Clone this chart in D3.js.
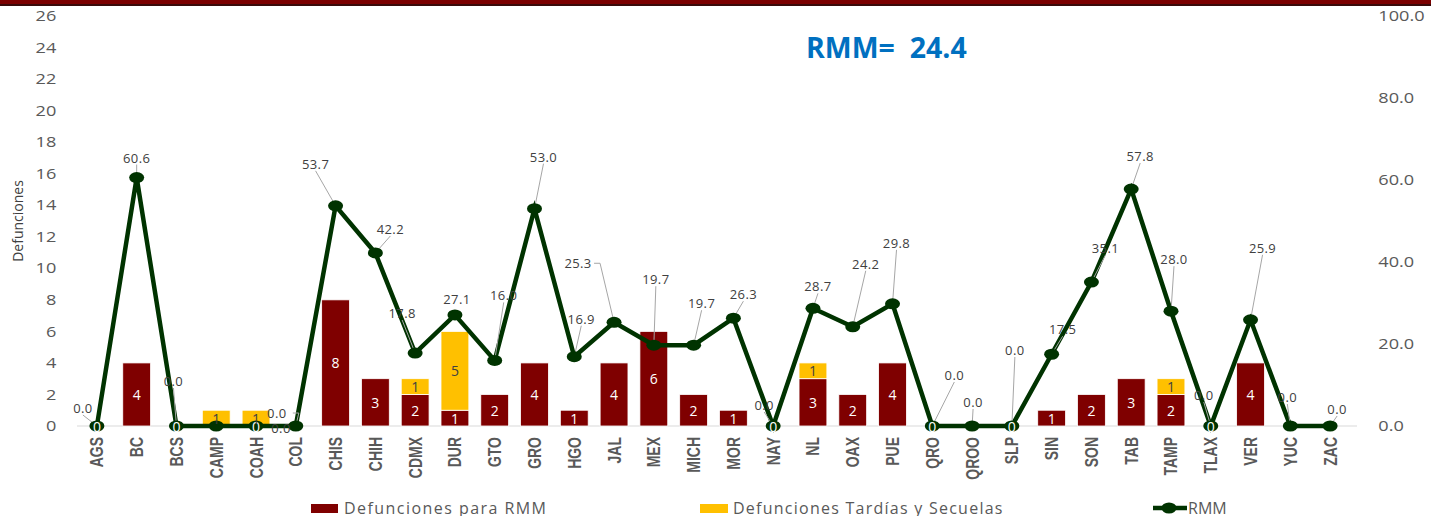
<!DOCTYPE html>
<html><head><meta charset="utf-8">
<script src="https://cdn.jsdelivr.net/npm/d3@7"></script>
<style>
body{margin:0;background:#fff;}
svg{display:block;font-family:"Open Sans","DejaVu Sans",sans-serif;}
</style></head>
<body>
<svg id="c" width="1431" height="516"></svg>
<script>
const categories = ["AGS","BC","BCS","CAMP","COAH","COL","CHIS","CHIH","CDMX","DUR","GTO","GRO","HGO","JAL","MEX","MICH","MOR","NAY","NL","OAX","PUE","QRO","QROO","SLP","SIN","SON","TAB","TAMP","TLAX","VER","YUC","ZAC"];
const defuncionesRMM = [0,4,0,0,0,0,8,3,2,1,2,4,1,4,6,2,1,0,3,2,4,0,0,0,1,2,3,2,0,4,0,0];
const defuncionesTardias = [0,0,0,1,1,0,0,0,1,5,0,0,0,0,0,0,0,0,1,0,0,0,0,0,0,0,0,1,0,0,0,0];
const rmm = [0,60.6,0,0,0,0,53.7,42.2,17.8,27.1,16.0,53.0,16.9,25.3,19.7,19.7,26.3,0,28.7,24.2,29.8,0,0,0,17.5,35.1,57.8,28.0,0,25.9,0,0];
const leftTicks = [0,2,4,6,8,10,12,14,16,18,20,22,24,26];
const rightTicks = [0,20,40,60,80,100];
const zeroLabelShown = ["AGS","BCS","COAH","NAY","QRO","SLP","TLAX"];
const rmmTotal = "24.4";
const seriesNames = ["Defunciones para RMM","Defunciones Tardías y Secuelas","RMM"];

// label layout (pixel offsets from marker; leader type: b=bottom, r=right elbow, n=none, x=hidden)
const labelLayout = [
 [-14,-18,"b"],[0,-20,"b"],[-3,-45,"b"],[0,0,"x"],[25,2,"n"],[-19,-13,"r"],
 [-20,-42,"b"],[15,-24,"b"],[-13,-40,"b"],[2,-16,"n"],[9,-65,"b"],[9,-52,"b"],
 [7,-38,"b"],[-36,-59,"r"],[2,-66,"b"],[8,-42,"b"],[10,-24,"b"],[-9,-21,"b"],
 [5,-22,"b"],[13,-63,"b"],[4,-61,"b"],[22,-51,"b"],[1,-24,"b"],[3,-76,"b"],
 [11,-25,"b"],[14,-34,"b"],[9,-33,"b"],[3,-52,"b"],[-7,-31,"b"],[12,-72,"b"],
 [-3,-29,"b"],[7,-17,"b"]
];

const svg = d3.select("#c");
const W = 1431, H = 516;
const red = "#7f0000", yellow = "#ffc000", green = "#003300", gray = "#595959";

// top band
svg.append("rect").attr("x",0).attr("y",0).attr("width",W).attr("height",4).attr("fill","#7b0000");
svg.append("rect").attr("x",0).attr("y",4).attr("width",W).attr("height",2).attr("fill","#3a0a0a");

const x = d3.scaleBand().domain(categories).range([77,1350]).paddingInner(0.3).paddingOuter(0.15);
const yL = d3.scaleLinear().domain([0,26]).range([426,16]);
const yR = d3.scaleLinear().domain([0,100]).range([426,16]);

// baseline
svg.append("line").attr("x1",77).attr("x2",1357).attr("y1",yL(0)).attr("y2",yL(0))
  .attr("stroke","#d9d9d9").attr("stroke-width",1.2);

// left axis
const gL = svg.append("g").attr("transform","translate(60,0)")
  .call(d3.axisLeft(yL).tickValues(leftTicks).tickSize(0).tickPadding(4));
gL.select(".domain").remove();
gL.selectAll("text").attr("fill",gray).attr("x",-3).attr("transform","scale(1.25,1)")
  .style("font-size","14.5px").style("font-family","'Open Sans',sans-serif");

// right axis
const gR = svg.append("g").attr("transform","translate(1374,0)")
  .call(d3.axisRight(yR).tickValues(rightTicks).tickSize(0).tickPadding(4).tickFormat(d3.format(".1f")));
gR.select(".domain").remove();
gR.selectAll("text").attr("fill",gray).attr("x",3.5).attr("transform","scale(1.25,1)")
  .style("font-size","14.5px").style("font-family","'Open Sans',sans-serif");

// y title
svg.append("text").attr("transform","translate(23,221) rotate(-90)")
  .attr("text-anchor","middle").attr("fill","#404040")
  .style("font-size","14px")
  .text("Defunciones");

// bars
const data = categories.map((c,i)=>({c, a:defuncionesRMM[i], b:defuncionesTardias[i], r:rmm[i], i}));
const bw = x.bandwidth();
svg.append("g").selectAll("rect").data(data.filter(d=>d.a>0)).join("rect")
  .attr("x",d=>x(d.c)).attr("width",bw)
  .attr("y",d=>yL(d.a)).attr("height",d=>yL(0)-yL(d.a))
  .attr("fill",red).attr("stroke","#fff").attr("stroke-width",0.8);
svg.append("g").selectAll("rect").data(data.filter(d=>d.b>0)).join("rect")
  .attr("x",d=>x(d.c)).attr("width",bw)
  .attr("y",d=>yL(d.a+d.b)).attr("height",d=>yL(d.a)-yL(d.a+d.b))
  .attr("fill",yellow).attr("stroke","#fff").attr("stroke-width",0.8);

// x labels
svg.append("g").selectAll("text").data(categories).join("text")
  .attr("transform",d=>`translate(${x(d)+bw/2+6.5},437) rotate(-90) scale(0.8,1)`)
  .attr("text-anchor","end").attr("fill",gray)
  .style("font-family","'Liberation Sans',Arial,sans-serif")
  .style("font-weight","bold").style("font-size","17.5px")
  .text(d=>d);

// line
const cx = d=>x(d.c)+bw/2;
const line = d3.line().x(cx).y(d=>yR(d.r));
svg.append("path").datum(data).attr("d",line).attr("fill","none")
  .attr("stroke",green).attr("stroke-width",4.5).attr("stroke-linejoin","miter");

// leader lines
const lg = svg.append("g");
data.forEach(d=>{
  const [dx,dy,t] = labelLayout[d.i];
  if(t==="x") return;
  const mx = cx(d), my = yR(d.r);
  const lx = mx+dx, ly = my+dy;
  if(t==="b"){
    lg.append("line").attr("x1",lx).attr("y1",ly+7).attr("x2",mx).attr("y2",my)
      .attr("stroke","#a6a6a6").attr("stroke-width",1);
  } else if(t==="r"){
    lg.append("polyline").attr("points",`${lx+16},${ly} ${lx+22},${ly} ${mx},${my}`)
      .attr("fill","none").attr("stroke","#a6a6a6").attr("stroke-width",1);
  }
});

// markers
svg.append("g").selectAll("ellipse").data(data).join("ellipse")
  .attr("cx",cx).attr("cy",d=>yR(d.r)).attr("rx",7.5).attr("ry",5.5).attr("fill",green);

// RMM data labels
data.forEach(d=>{
  const [dx,dy,t] = labelLayout[d.i];
  if(t==="x") return;
  svg.append("text").attr("x",cx(d)+dx).attr("y",yR(d.r)+dy)
    .attr("text-anchor","middle").attr("dominant-baseline","central")
    .attr("fill","#404040").style("font-size","13px").style("letter-spacing","0.4px")
    .text(d3.format(".1f")(d.r));
});

// bar value labels
svg.append("g").selectAll("text").data(data.filter(d=>d.a>0 || zeroLabelShown.includes(d.c))).join("text")
  .attr("x",d=>cx(d)).attr("y",d=>d.a>0 ? (yL(d.a)+yL(0))/2 : yL(0))
  .attr("text-anchor","middle").attr("dominant-baseline","central")
  .attr("fill","#fff").style("font-size","14px").text(d=>d.a);
svg.append("g").selectAll("text").data(data.filter(d=>d.b>0)).join("text")
  .attr("x",d=>cx(d)).attr("y",d=>(yL(d.a)+yL(d.a+d.b))/2)
  .attr("text-anchor","middle").attr("dominant-baseline","central")
  .attr("fill","#404040").style("font-size","14px").text(d=>d.b);

// title
svg.append("text").attr("x",806).attr("y",58).attr("fill","#0070c0")
  .style("font-family","'Open Sans',sans-serif").style("font-weight","bold").style("font-size","28.5px")
  .attr("xml:space","preserve").text("RMM=  " + rmmTotal);

// legend
const leg = svg.append("g").style("font-size","16px").attr("fill",gray);
leg.append("rect").attr("x",311).attr("y",504).attr("width",27).attr("height",9).attr("fill",red);
leg.append("text").attr("x",344).attr("y",514).style("letter-spacing","1.45px").text(seriesNames[0]);
leg.append("rect").attr("x",700).attr("y",504).attr("width",28).attr("height",9).attr("fill",yellow);
leg.append("text").attr("x",733).attr("y",514).style("letter-spacing","1.25px").text(seriesNames[1]);
leg.append("line").attr("x1",1153).attr("x2",1187).attr("y1",508).attr("y2",508).attr("stroke",green).attr("stroke-width",4.5);
leg.append("ellipse").attr("cx",1169).attr("cy",508).attr("rx",7.5).attr("ry",5.5).attr("fill",green);
leg.append("text").attr("x",1188).attr("y",514).text(seriesNames[2]);
</script>
</body></html>
